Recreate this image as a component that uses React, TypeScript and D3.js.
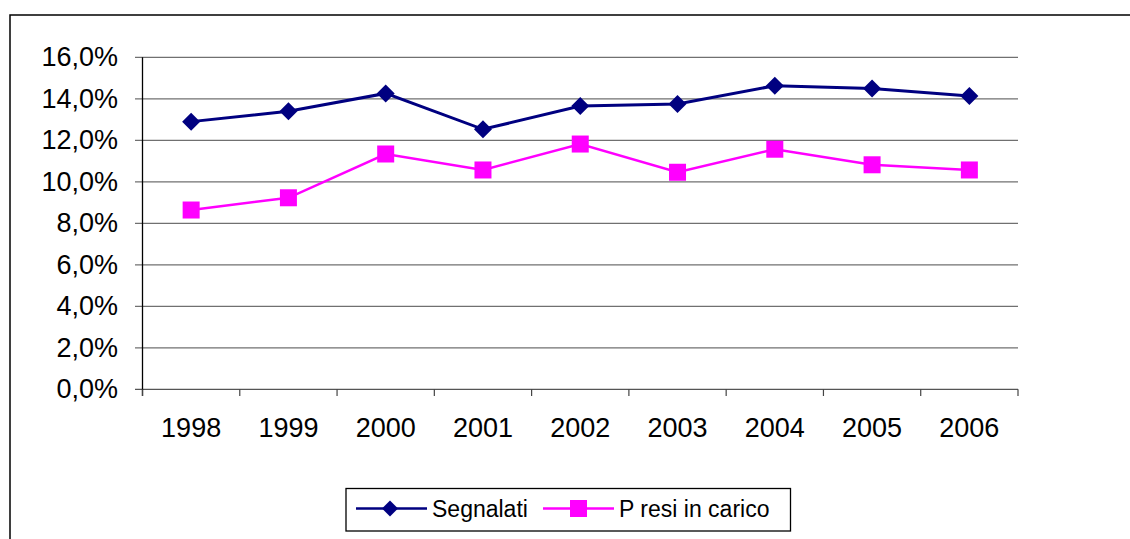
import React from 'react';
import * as d3 from 'd3';

const years = ['1998', '1999', '2000', '2001', '2002', '2003', '2004', '2005', '2006'];
const segnalati = [0.129, 0.134, 0.1426, 0.1253, 0.1365, 0.1375, 0.1463, 0.145, 0.1413];
const presiInCarico = [0.0864, 0.0923, 0.1134, 0.1057, 0.1182, 0.1046, 0.1157, 0.1082, 0.1057];
const yTicks = [0, 0.02, 0.04, 0.06, 0.08, 0.1, 0.12, 0.14, 0.16];

const font = '"Liberation Sans", Arial, sans-serif';
const navy = '#000080';
const magenta = '#FF00FF';

const App = () => {
  const width = 1130;
  const height = 539;

  const x = d3.scaleBand<string>().domain(years).range([142.5, 1018]);
  const y = d3.scaleLinear().domain([0, 0.16]).range([389.3, 57.3]);
  const cx = (yr: string) => (x(yr) as number) + x.bandwidth() / 2;

  const line = d3
    .line<number>()
    .x((_, i) => cx(years[i]))
    .y((d) => y(d));

  const fmt = (v: number) => (v * 100).toFixed(1).replace('.', ',') + '%';

  const diamond = (px: number, py: number, r: number) =>
    `M${px},${py - r}L${px + r},${py}L${px},${py + r}L${px - r},${py}Z`;

  const boundaries = years.map((yr) => x(yr) as number).concat([1018]);

  return (
    <svg
      width={width}
      height={height}
      style={{ position: 'absolute', left: 0, top: 0, background: '#fff' }}
      fontFamily={font}
    >
      {/* outer frame */}
      <rect x={10} y={15} width={1200} height={600} fill="none" stroke="#000" strokeWidth={1.5} />

      {/* gridlines */}
      {yTicks.map((t) => (
        <line
          key={'g' + t}
          x1={135}
          x2={1018}
          y1={y(t)}
          y2={y(t)}
          stroke={t === 0 ? '#555' : '#707070'}
          strokeWidth={1.3}
        />
      ))}
      {/* y axis */}
      <line x1={142.5} x2={142.5} y1={y(0.16)} y2={396} stroke="#000" strokeWidth={1.3} />
      {/* x ticks */}
      {boundaries.map((bx, i) => (
        <line key={'xt' + i} x1={bx} x2={bx} y1={y(0)} y2={396} stroke="#444" strokeWidth={1.2} />
      ))}

      {/* y labels */}
      {yTicks.map((t) => (
        <text key={'yl' + t} x={118} y={y(t) + 9} textAnchor="end" fontSize={27} fill="#000">
          {fmt(t)}
        </text>
      ))}
      {/* x labels */}
      {years.map((yr) => (
        <text key={'xl' + yr} x={cx(yr)} y={437} textAnchor="middle" fontSize={27} fill="#000">
          {yr}
        </text>
      ))}

      {/* series */}
      <path d={line(segnalati) || ''} fill="none" stroke={navy} strokeWidth={3} />
      {segnalati.map((v, i) => (
        <path key={'s' + i} d={diamond(cx(years[i]), y(v), 9)} fill={navy} />
      ))}
      <path d={line(presiInCarico) || ''} fill="none" stroke={magenta} strokeWidth={2.5} />
      {presiInCarico.map((v, i) => (
        <rect
          key={'p' + i}
          x={cx(years[i]) - 8.5}
          y={y(v) - 8.5}
          width={17}
          height={17}
          fill={magenta}
        />
      ))}

      {/* legend */}
      <rect x={346} y={488.5} width={444.5} height={42.5} fill="#fff" stroke="#000" strokeWidth={1.3} />
      <line x1={356} x2={427} y1={508.5} y2={508.5} stroke={navy} strokeWidth={2.5} />
      <path d={diamond(390, 508.5, 8)} fill={navy} />
      <text x={432} y={516.5} fontSize={23} fill="#000">
        Segnalati
      </text>
      <line x1={543} x2={614} y1={508.5} y2={508.5} stroke={magenta} strokeWidth={2.5} />
      <rect x={570} y={500} width={17} height={17} fill={magenta} />
      <text x={619} y={516.5} fontSize={23} fill="#000">
        <tspan>P</tspan>
        <tspan dx={6}>resi in carico</tspan>
      </text>
    </svg>
  );
};

export default App;
